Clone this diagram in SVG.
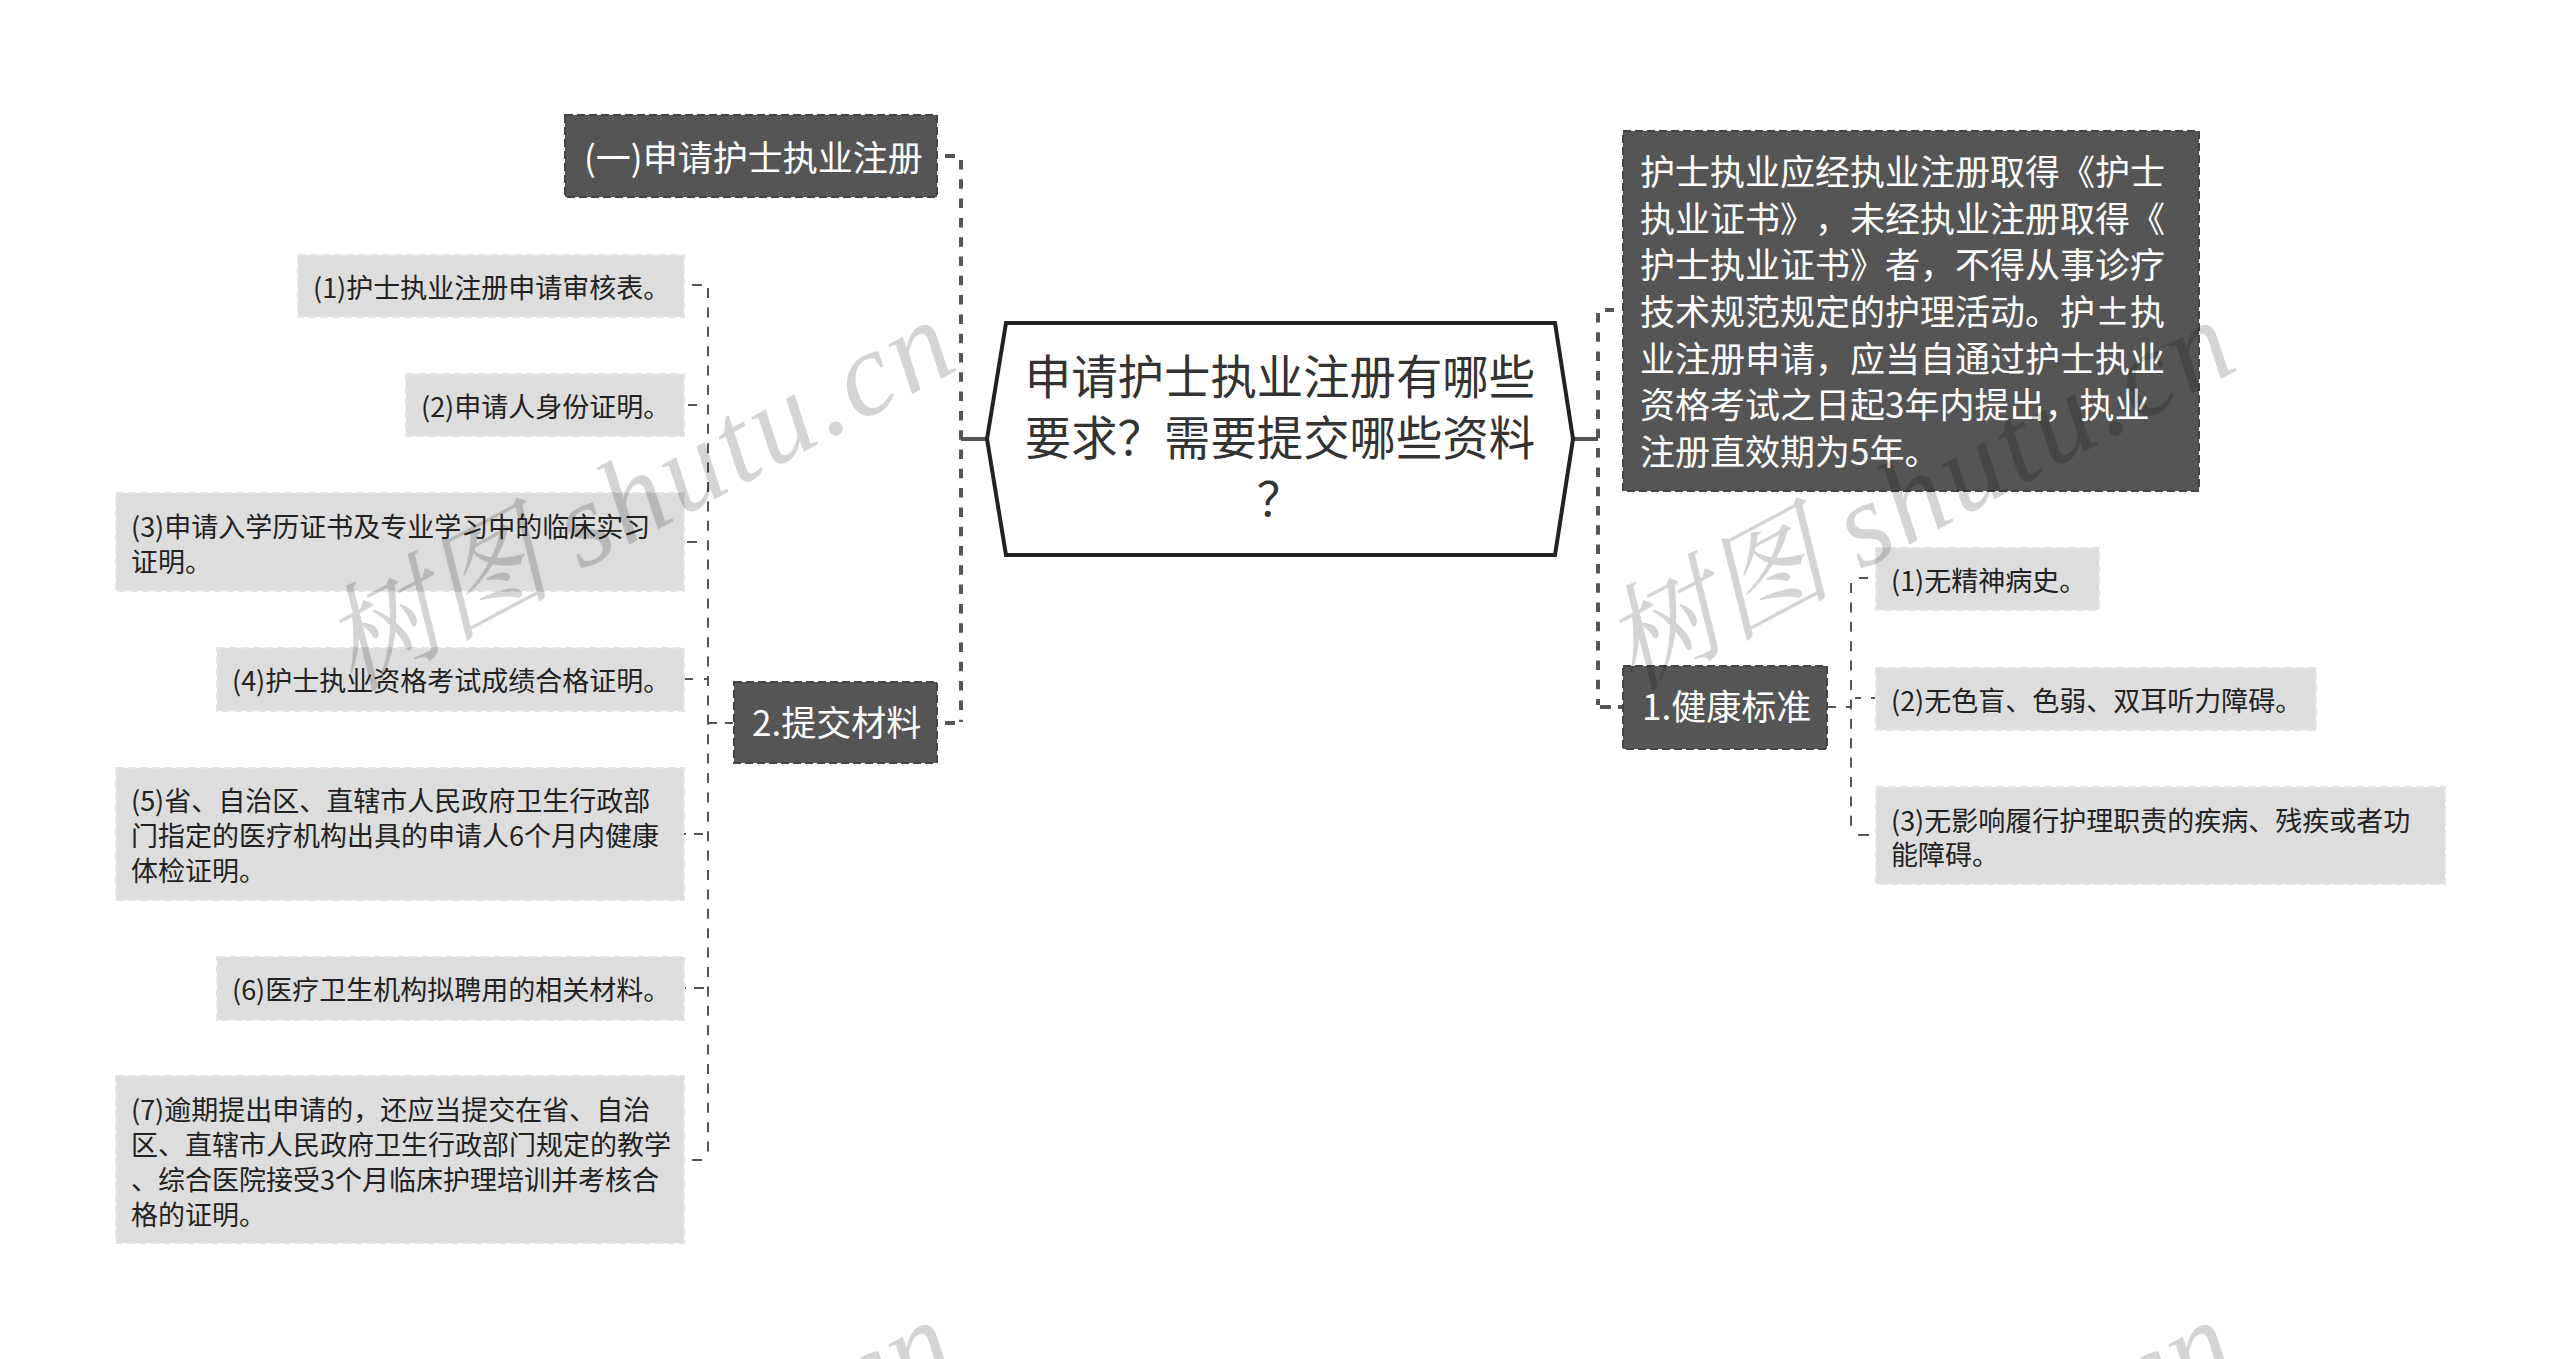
<svg xmlns="http://www.w3.org/2000/svg" width="2560" height="1359" viewBox="0 0 2560 1359">
<style>
text{font-family:"Noto Sans CJK SC","Microsoft YaHei",sans-serif;text-spacing-trim:space-all;font-feature-settings:"chws" 0}
.dark{fill:#555;stroke:#444;stroke-width:2;stroke-dasharray:8 4}
.light{fill:#ddd;stroke:#e4e4e4;stroke-width:2;stroke-dasharray:8 4}
.t1{font-size:35px;fill:#fff}
.t2{font-size:27px;fill:#222}
.main{font-size:46.4px;fill:#333;text-anchor:middle}
.c1{fill:none;stroke:#555;stroke-width:4;stroke-dasharray:9.5 9.8}
.c2{fill:none;stroke:#555;stroke-width:2;stroke-dasharray:10 9.4}
.s1{fill:none;stroke:#555;stroke-width:4}
.s2{fill:none;stroke:#555;stroke-width:2}
.wm{font-family:"Liberation Serif","Noto Serif CJK SC",serif;font-style:italic;font-size:115px;fill:#000;fill-opacity:.17}
.wl{font-size:120px;letter-spacing:4px}
</style>
<rect width="2560" height="1359" fill="#fff"/>
<g id="connectors">
<path class="s1" d="M961 439H987M1573 439H1598"/>
<path class="c1" d="M961 160V722"/>
<path class="s1" d="M945 156H955M945 723H955"/>
<path class="c1" d="M1598 313V705"/>
<path class="s1" d="M1605 310H1614M1600 707H1611M1618 707H1623"/>
<path class="c2" d="M708 288V1158"/>
<path class="s2" d="M692 285H702M688 405H697M687 542H697M684 679H693M704 679H708M684 834H686M694 834H703M683 988H686M694 988H704M692 1160H702M709 723H717M725 723H733"/>
<path class="c2" d="M1851 583V833"/>
<path class="s2" d="M1859 578H1868M1827 707H1836M1846 707H1851M1855 698H1861M1871 698H1876M1858 835H1869"/>
</g>
<g id="root">
<path d="M1006 323H1555L1573 439L1555 555H1006L987 439Z" fill="#fff" stroke="#222" stroke-width="4"/>
<text class="main" x="1280" y="394">申请护士执业注册有哪些</text>
<text class="main" x="1280" y="455">要求？需要提交哪些资料</text>
<text class="main" x="1280" y="516">？</text>
</g>
<g id="n1"><rect class="dark" x="565" y="115" width="372" height="82"/><text class="t1" x="584" y="171">(一)申请护士执业注册</text></g>
<g id="n2"><rect class="dark" x="734" y="682" width="203" height="81"/><text class="t1" x="752" y="736">2.提交材料</text></g>
<g id="n3"><rect class="dark" x="1623" y="131" width="576" height="360"/>
<text class="t1" x="1640" y="185">护士执业应经执业注册取得《护士</text>
<text class="t1" x="1640" y="232">执业证书》，未经执业注册取得《</text>
<text class="t1" x="1640" y="278">护士执业证书》者，不得从事诊疗</text>
<text class="t1" x="1640" y="325">技术规范规定的护理活动。护±执</text>
<text class="t1" x="1640" y="372">业注册申请，应当自通过护士执业</text>
<text class="t1" x="1640" y="418">资格考试之日起3年内提出，执业</text>
<text class="t1" x="1640" y="465">注册直效期为5年。</text></g>
<g id="n4"><rect class="dark" x="1623" y="666" width="204" height="83"/><text class="t1" x="1642" y="720">1.健康标准</text></g>
<g id="a1"><rect class="light" x="298" y="255" width="386" height="62"/><text class="t2" x="313" y="298">(1)护士执业注册申请审核表。</text></g>
<g id="a2"><rect class="light" x="406" y="374" width="278" height="62"/><text class="t2" x="421" y="417">(2)申请人身份证明。</text></g>
<g id="a3"><rect class="light" x="116" y="493" width="568" height="98"/><text class="t2" x="131" y="537">(3)申请入学历证书及专业学习中的临床实习</text><text class="t2" x="131" y="572">证明。</text></g>
<g id="a4"><rect class="light" x="217" y="648" width="467" height="63"/><text class="t2" x="232" y="691">(4)护士执业资格考试成绩合格证明。</text></g>
<g id="a5"><rect class="light" x="116" y="768" width="568" height="132"/><text class="t2" x="131" y="811">(5)省、自治区、直辖市人民政府卫生行政部</text><text class="t2" x="131" y="846">门指定的医疗机构出具的申请人6个月内健康</text><text class="t2" x="131" y="881">体检证明。</text></g>
<g id="a6"><rect class="light" x="217" y="957" width="467" height="63"/><text class="t2" x="232" y="1000">(6)医疗卫生机构拟聘用的相关材料。</text></g>
<g id="a7"><rect class="light" x="116" y="1076" width="568" height="167"/><text class="t2" x="131" y="1120">(7)逾期提出申请的，还应当提交在省、自治</text><text class="t2" x="131" y="1155">区、直辖市人民政府卫生行政部门规定的教学</text><text class="t2" x="131" y="1190">、综合医院接受3个月临床护理培训并考核合</text><text class="t2" x="131" y="1225">格的证明。</text></g>
<g id="b1"><rect class="light" x="1876" y="548" width="223" height="62"/><text class="t2" x="1891" y="591">(1)无精神病史。</text></g>
<g id="b2"><rect class="light" x="1876" y="668" width="440" height="62"/><text class="t2" x="1891" y="711">(2)无色盲、色弱、双耳听力障碍。</text></g>
<g id="b3"><rect class="light" x="1876" y="787" width="569" height="97"/><text class="t2" x="1891" y="831">(3)无影响履行护理职责的疾病、残疾或者功</text><text class="t2" x="1891" y="865">能障碍。</text></g>
<g id="watermark">
<text class="wm" transform="translate(352 692) rotate(-28)">树图 <tspan class="wl">shutu.cn</tspan></text>
<text class="wm" transform="translate(1632 692) rotate(-28)">树图 <tspan class="wl">shutu.cn</tspan></text>
<text class="wm" transform="translate(352 1692) rotate(-28)">树图 <tspan class="wl">shutu.cn</tspan></text>
<text class="wm" transform="translate(1632 1692) rotate(-28)">树图 <tspan class="wl">shutu.cn</tspan></text>
</g>
</svg>
